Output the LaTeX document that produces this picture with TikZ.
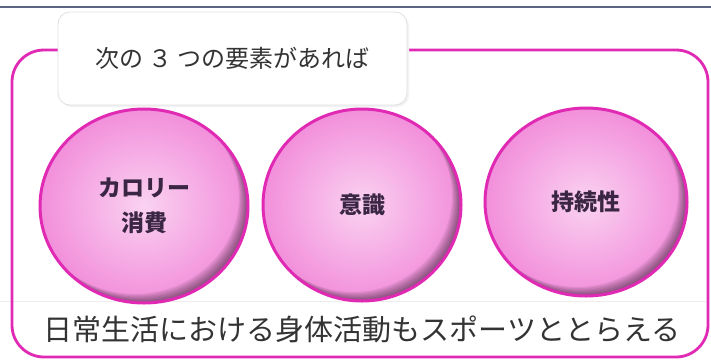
\documentclass[tikz,border=0pt]{standalone}
\usepackage{fontspec}
\newfontfamily\jp{Noto Sans CJK JP}
\usetikzlibrary{shapes.geometric}
\definecolor{mag}{HTML}{E02AB4}
\definecolor{topline}{HTML}{5A6483}
\definecolor{txt}{HTML}{333333}
\definecolor{balltxt}{HTML}{3A2545}
\definecolor{ballin}{HTML}{FAD2F1}
\definecolor{ballout}{HTML}{F28FDB}
\tikzset{
  ball/.style 2 args={ellipse, draw=mag, line width=3pt, inner color=ballin, outer color=ballout,
    minimum width=#1, minimum height=#2, inner sep=0pt, align=center,
    font=\jp\bfseries\fontsize{23}{35}\selectfont, text=balltxt,
    path picture={
      \foreach \k in {1,...,7}{
        \fill[black, opacity=0.075, even odd rule]
          (path picture bounding box.south west) rectangle (path picture bounding box.north east)
          ([shift={(-\k*1.3,-\k*1.3)}]path picture bounding box.center) ellipse [x radius=#1/2, y radius=#2/2];
      }
    }},
  labelbox/.style={draw=black!12, fill=white, rounded corners=12pt, line width=0.8pt,
    font=\jp\fontsize{24}{28}\selectfont, text=txt},
  frame/.style={draw=mag, line width=2.8pt, rounded corners=32pt}
}
\begin{document}
\begin{tikzpicture}[x=1pt, y=-1pt]
\useasboundingbox (0,0) rectangle (711,359);
\fill[white] (0,0) rectangle (711,359);
% top line
\coordinate (tl) at (0,7);
\coordinate (tr) at (711,7);
\draw[topline, line width=1.6pt] (tl) -- (tr);
% faint separator
\coordinate (sl) at (0,301);
\coordinate (sr) at (706,301);
\draw[black!7, line width=1pt] (sl) -- (sr);
% outer frame
\node[frame, minimum width=696, minimum height=307, inner sep=0pt] (outer) at (360,203.5) {};
% label box shadow and box
\fill[black!5, rounded corners=12pt] (60,14) rectangle (409,107);
\node[labelbox, minimum width=349, minimum height=93, inner sep=0pt] (lbl) at (232.5,58.5) {次の ３ つの要素があれば};
% circles
\node[ball={208}{194}] (c1) at (144,206) {カロリー\\消費};
\node[ball={198}{192}] (c2) at (362,205) {意識};
\node[ball={202}{188}] (c3) at (586,202) {持続性};
% bottom text
\node[font=\jp\fontsize{29}{32}\selectfont, text=txt, inner sep=0pt] (bottom) at (362,329) {日常生活における身体活動もスポーツととらえる};
\end{tikzpicture}
\end{document}
